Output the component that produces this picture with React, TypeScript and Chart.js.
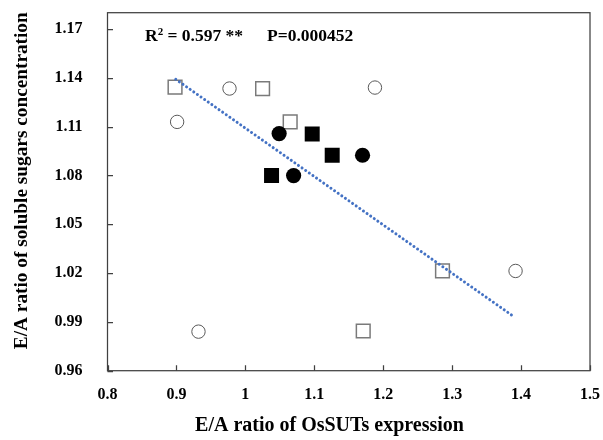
import React, { useEffect, useRef } from "react";
import { Chart, registerables } from "chart.js";

Chart.register(...registerables);

// ---- data ----
const openSquares = [
  { x: 0.898, y: 1.1342 },
  { x: 1.025, y: 1.1334 },
  { x: 1.065, y: 1.1129 },
  { x: 1.286, y: 1.0213 },
  { x: 1.171, y: 0.9844 },
];
const openCircles = [
  { x: 0.977, y: 1.1334 },
  { x: 1.188, y: 1.134 },
  { x: 0.901, y: 1.1129 },
  { x: 0.932, y: 0.984 },
  { x: 1.392, y: 1.0213 },
];
const filledSquares = [
  { x: 1.097, y: 1.1055 },
  { x: 1.126, y: 1.0924 },
  { x: 1.038, y: 1.0799 },
];
const filledCircles = [
  { x: 1.049, y: 1.1057 },
  { x: 1.170, y: 1.0924 },
  { x: 1.070, y: 1.0799 },
];
const trendLine = [
  { x: 0.899, y: 1.1391 },
  { x: 1.391, y: 0.9928 },
];

const xTicks = [0.8, 0.9, 1.0, 1.1, 1.2, 1.3, 1.4, 1.5];
const xTickLabels = ["0.8", "0.9", "1", "1.1", "1.2", "1.3", "1.4", "1.5"];
const yTicks = [0.96, 0.99, 1.02, 1.05, 1.08, 1.11, 1.14, 1.17];
const yTickLabels = ["0.96", "0.99", "1.02", "1.05", "1.08", "1.11", "1.14", "1.17"];

const xTitle = "E/A ratio of OsSUTs expression";
const yTitle = "E/A ratio of soluble sugars concentration";
const r2Label = ["R", "2", " = 0.597 **"];
const pLabel = "P=0.000452";

const FONT = "'Liberation Serif', 'Times New Roman', serif";

const decorPlugin = {
  id: "decor",
  afterDraw(chart: any) {
    const { ctx, chartArea: a, scales } = chart;
    ctx.save();
    // frame
    ctx.strokeStyle = "#404040";
    ctx.lineWidth = 1.25;
    ctx.strokeRect(a.left, a.top, a.right - a.left, a.bottom - a.top);
    // inward tick marks
    ctx.beginPath();
    for (const v of xTicks) {
      const px = Math.round(scales.x.getPixelForValue(v)) + 0.5;
      ctx.moveTo(px, a.bottom);
      ctx.lineTo(px, a.bottom - 5.5);
    }
    for (const v of yTicks) {
      const py = Math.round(scales.y.getPixelForValue(v)) + 0.5;
      ctx.moveTo(a.left, py);
      ctx.lineTo(a.left + 5.5, py);
    }
    ctx.stroke();

    // axis titles
    ctx.fillStyle = "#000";
    ctx.textAlign = "center";
    ctx.textBaseline = "middle";
    ctx.font = `bold 20px ${FONT}`;
    ctx.fillText(xTitle, a.left + 222, a.bottom + 55);
    ctx.save();
    ctx.font = `bold 19.3px ${FONT}`;
    ctx.translate(22.5, a.top + 168);
    ctx.rotate(-Math.PI / 2);
    ctx.fillText(yTitle, 0, 0);
    ctx.restore();

    // annotation
    ctx.textAlign = "left";
    ctx.textBaseline = "alphabetic";
    const bx = a.left + 37.5;
    const by = a.top + 28;
    ctx.font = `bold 17.5px ${FONT}`;
    ctx.fillText(r2Label[0], bx, by);
    let cx = bx + ctx.measureText(r2Label[0]).width;
    ctx.font = `bold 11px ${FONT}`;
    ctx.fillText(r2Label[1], cx, by - 6);
    cx += ctx.measureText(r2Label[1]).width;
    ctx.font = `bold 17.5px ${FONT}`;
    ctx.fillText(r2Label[2], cx, by);
    ctx.fillText(pLabel, a.left + 159.5, by);
    ctx.restore();
  },
};

export default function App() {
  const ref = useRef<HTMLCanvasElement | null>(null);
  useEffect(() => {
    document.body.style.margin = "0";
    const canvas = ref.current;
    if (!canvas) return;
    const tickFont = { family: FONT, size: 16, weight: "bold" as const };
    const chart = new Chart(canvas, {
      type: "scatter",
      data: {
        datasets: [
          {
            label: "trend",
            data: trendLine,
            showLine: true,
            borderColor: "#4472C4",
            borderWidth: 3,
            borderDash: [0.01, 4.4],
            borderCapStyle: "round",
            pointRadius: 0,
            fill: false,
          } as any,
          {
            label: "filled circles",
            data: filledCircles,
            pointStyle: "circle",
            pointRadius: 7.6,
            backgroundColor: "#000",
            borderColor: "#000",
            borderWidth: 0,
          },
          {
            label: "filled squares",
            data: filledSquares,
            pointStyle: "rect",
            pointRadius: 10.6,
            backgroundColor: "#000",
            borderColor: "#000",
            borderWidth: 0,
          },
          {
            label: "open circles",
            data: openCircles,
            pointStyle: "circle",
            pointRadius: 6.7,
            backgroundColor: "#fff",
            borderColor: "#595959",
            borderWidth: 1,
          },
          {
            label: "open squares",
            data: openSquares,
            pointStyle: "rect",
            pointRadius: 9.7,
            backgroundColor: "#fff",
            borderColor: "#7a7a7a",
            borderWidth: 1.5,
          },
        ],
      },
      options: {
        responsive: false,
        animation: false,
        events: [],
        layout: { padding: { top: 12.7, right: 13, left: 0, bottom: 0 } },
        plugins: { legend: { display: false }, tooltip: { enabled: false } },
        scales: {
          x: {
            type: "linear",
            min: 0.8,
            max: 1.5,
            afterBuildTicks: (s: any) => {
              s.ticks = xTicks.map((v) => ({ value: v }));
            },
            afterFit: (s: any) => {
              s.height = 69.3;
              s.paddingLeft = 0;
              s.paddingRight = 0;
            },
            grid: { display: false, drawTicks: false },
            border: { display: false },
            ticks: {
              font: tickFont,
              color: "#000",
              padding: 14.5,
              maxRotation: 0,
              autoSkip: false,
              callback: (_v: any, i: number) => xTickLabels[i],
            },
          },
          y: {
            type: "linear",
            min: 0.96,
            max: 1.18,
            afterBuildTicks: (s: any) => {
              s.ticks = yTicks.map((v) => ({ value: v }));
            },
            afterFit: (s: any) => {
              s.width = 107.5;
              s.paddingTop = 0;
              s.paddingBottom = 0;
            },
            grid: { display: false, drawTicks: false },
            border: { display: false },
            ticks: {
              font: tickFont,
              color: "#000",
              padding: 25,
              autoSkip: false,
              callback: (_v: any, i: number) => yTickLabels[i],
            },
          },
        },
      },
      plugins: [decorPlugin],
    });
    return () => chart.destroy();
  }, []);
  return (
    <div style={{ width: 603, height: 440 }}>
      <canvas ref={ref} width={603} height={440} />
    </div>
  );
}
